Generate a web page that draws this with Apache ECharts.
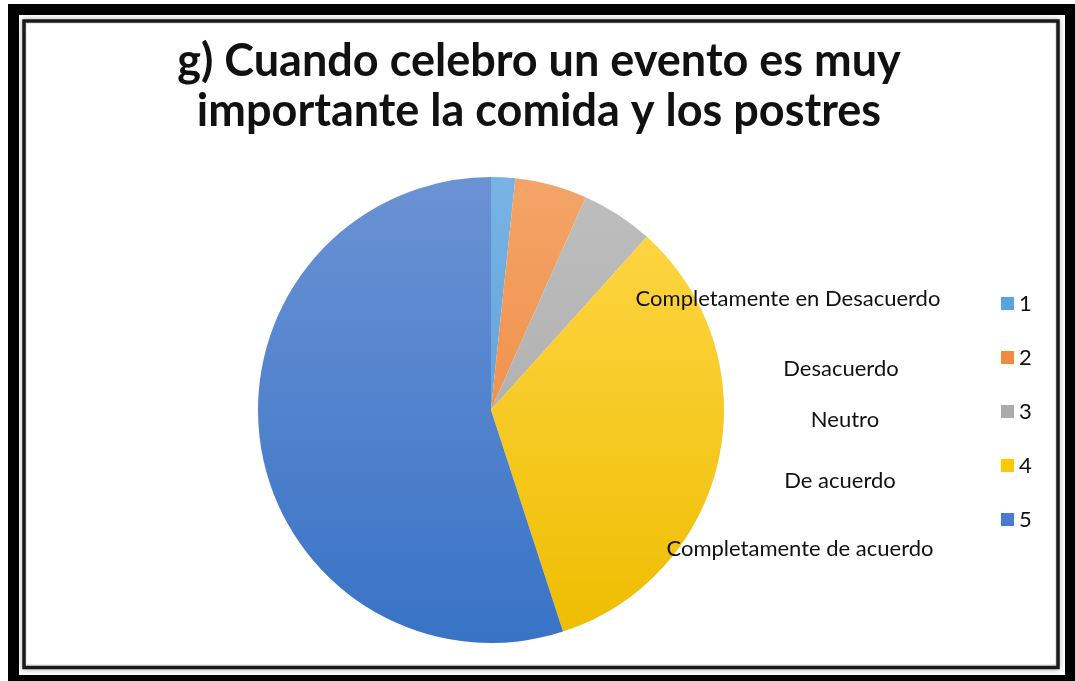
<!DOCTYPE html>
<html>
<head>
<meta charset="utf-8">
<script src="https://cdn.jsdelivr.net/npm/echarts@6/dist/echarts.min.js"></script>
<style>
  html, body { margin: 0; padding: 0; background: #fff; }
  #chart { width: 1075px; height: 681px; }
</style>
</head>
<body>
<div id="chart"></div>
<script>
// Survey item: response counts per Likert level
const categories = ['1', '2', '3', '4', '5'];
const counts = [1, 3, 3, 20, 33];
const scaleNames = [
  'Completamente en Desacuerdo',
  'Desacuerdo',
  'Neutro',
  'De acuerdo',
  'Completamente de acuerdo'
];
const titleLines = [
  'g) Cuando celebro un evento es muy',
  'importante la comida y los postres'
];

const cx = 491, cy = 410, r = 233;

// vertical shading across the whole pie, light at the top, deeper at the bottom
function shade(top, bottom) {
  return {
    type: 'linear', global: true,
    x: cx, y: cy - r, x2: cx, y2: cy + r,
    colorStops: [{ offset: 0, color: top }, { offset: 1, color: bottom }]
  };
}
const sliceColors = [
  shade('#78B3E4', '#5296D3'),
  shade('#F4A468', '#EC8132'),
  shade('#BEBEBE', '#A6A6A6'),
  shade('#FFD84A', '#EEBD00'),
  shade('#6B92D4', '#3873C6')
];
const legendColors = ['#5BA3DC', '#F08A40', '#ABABAB', '#FFC800', '#4A7BCC'];

const chart = echarts.init(document.getElementById('chart'), null, { renderer: 'canvas' });

// scale names floating to the right of the pie
const nameLayout = [
  { x: 788, y: 299 },
  { x: 841, y: 369 },
  { x: 845, y: 420 },
  { x: 840, y: 481 },
  { x: 800, y: 549 }
];
const nameTexts = scaleNames.map((t, i) => ({
  type: 'text', z: 50,
  x: nameLayout[i].x, y: nameLayout[i].y,
  style: {
    text: t, fill: '#111',
    font: '22px Lato, "Open Sans", sans-serif',
    textAlign: 'center', textVerticalAlign: 'middle'
  }
}));

chart.setOption({
  animation: false,
  title: {
    text: titleLines.join('\n'),
    left: 534, top: 31, textAlign: 'center',
    textStyle: {
      fontFamily: 'Lato, "Open Sans", sans-serif',
      fontWeight: 'bold', fontSize: 45, lineHeight: 50, color: '#111'
    }
  },
  legend: {
    orient: 'vertical',
    left: 996, top: 284,
    itemWidth: 13, itemHeight: 13, itemGap: 25,
    icon: 'rect',
    selectedMode: false,
    data: categories.map((c, i) => ({ name: c, itemStyle: { color: legendColors[i] } })),
    textStyle: {
      fontFamily: 'Lato, "Open Sans", sans-serif',
      fontSize: 22, lineHeight: 24, color: '#111', padding: [5, 0, 0, 0]
    }
  },
  graphic: [
    // outer heavy frame
    { type: 'rect', z: 1, silent: true,
      shape: { x: 13.5, y: 9.5, width: 1057, height: 671 },
      style: { fill: null, stroke: '#000', lineWidth: 11 } },
    // inner panel with a soft inset shade
    { type: 'rect', z: 0, silent: true,
      shape: { x: 24, y: 21, width: 1034, height: 646.5 },
      style: { fill: '#fff', stroke: '#1a1a1a', lineWidth: 3.5,
        shadowBlur: 6, shadowColor: 'rgba(0,0,0,0.25)' } },
    { type: 'rect', z: 0, silent: true,
      shape: { x: 27, y: 24, width: 1028, height: 640 },
      style: { fill: '#fff' } },
    ...nameTexts
  ],
  series: [{
    type: 'pie',
    center: [cx, cy],
    radius: r,
    startAngle: 90,
    clockwise: true,
    label: { show: false },
    labelLine: { show: false },
    emphasis: { disabled: true },
    itemStyle: { borderWidth: 0 },
    data: categories.map((c, i) => ({
      name: c, value: counts[i],
      itemStyle: { color: sliceColors[i] }
    }))
  }]
});
</script>
</body>
</html>
